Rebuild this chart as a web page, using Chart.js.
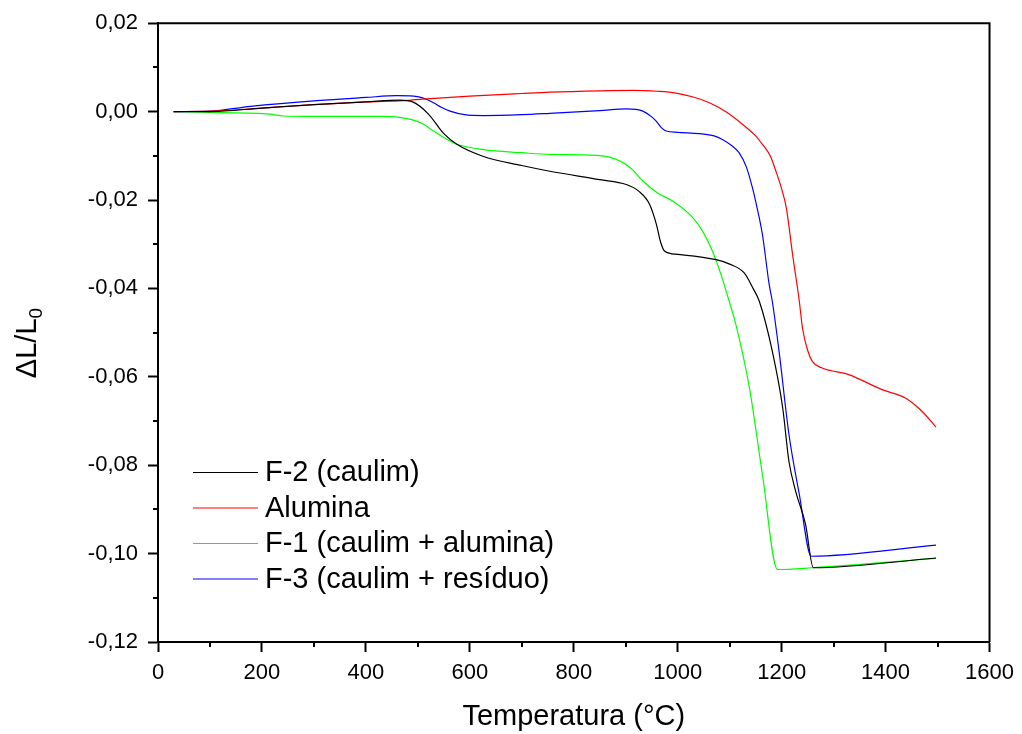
<!DOCTYPE html>
<html>
<head>
<meta charset="utf-8">
<script src="https://cdn.jsdelivr.net/npm/chart.js@4.4.1/dist/chart.umd.min.js"></script>
<style>
  html, body { margin: 0; padding: 0; background: #fff; }
  #wrap { width: 1022px; height: 734px; }
</style>
</head>
<body>
<div id="wrap"><canvas id="dilat"></canvas></div>
<script>
// Dilatometria: retração linear (ΔL/L0) x temperatura

// ─── Dados ───────────────────────────────────────────────────────────────────
const F2_TEMP = [30, 100, 200, 300, 400, 465, 490, 520, 550, 575, 625, 700, 754, 850, 901, 925, 946, 959, 967, 975, 1000, 1074, 1100, 1128, 1145, 1157, 1182, 1202, 1214, 1227, 1246, 1261, 1497];
const F2_VAL  = [0, 0.0000, 0.0008, 0.0016, 0.0022, 0.0026, 0.0022, -0.0005, -0.0050, -0.0074, -0.0101, -0.0122, -0.0135, -0.0154, -0.0165, -0.0180, -0.0210, -0.0255, -0.0295, -0.0316, -0.0323, -0.0335, -0.0345, -0.0365, -0.0400, -0.0429, -0.0542, -0.0670, -0.0791, -0.0859, -0.0934, -0.1032, -0.1010];

const ALU_TEMP = [30, 100, 200, 300, 400, 472, 517, 600, 700, 754, 850, 914, 960, 997, 1030, 1061, 1095, 1125, 1150, 1163, 1178, 1189, 1200, 1209, 1221, 1234, 1240, 1250, 1259, 1278, 1329, 1393, 1438, 1470, 1497];
const ALU_VAL  = [0, 0.0001, 0.0008, 0.0016, 0.0022, 0.0025, 0.0029, 0.0035, 0.0041, 0.0044, 0.0047, 0.0048, 0.0046, 0.0042, 0.0033, 0.0020, -0.0002, -0.0029, -0.0055, -0.0074, -0.0100, -0.0135, -0.0175, -0.0218, -0.0323, -0.0429, -0.0489, -0.0540, -0.0565, -0.0580, -0.0595, -0.0629, -0.0648, -0.0678, -0.0714];

const F1_TEMP = [30, 82, 150, 210, 242, 300, 434, 479, 510, 530, 555, 575, 626, 700, 754, 844, 882, 910, 933, 960, 991, 1029, 1050, 1067, 1085, 1099, 1112, 1138, 1163, 1192, 1259, 1497];
const F1_VAL  = [0, -0.0001, -0.0003, -0.0005, -0.0010, -0.0011, -0.0011, -0.0016, -0.0028, -0.0044, -0.0062, -0.0074, -0.0086, -0.0093, -0.0097, -0.0099, -0.0108, -0.0128, -0.0157, -0.0183, -0.0203, -0.0240, -0.0275, -0.0316, -0.0375, -0.0429, -0.0482, -0.0625, -0.0821, -0.1036, -0.1032, -0.1011];

const F3_TEMP = [30, 100, 178, 306, 400, 460, 492, 512, 530, 545, 562, 590, 626, 700, 754, 850, 901, 920, 933, 950, 959, 970, 978, 1000, 1042, 1070, 1086, 1105, 1118, 1132, 1144, 1150, 1163, 1176, 1182, 1195, 1214, 1234, 1257, 1497];
const F3_VAL  = [0, 0.0001, 0.0012, 0.0025, 0.0032, 0.0036, 0.0035, 0.0030, 0.0020, 0.0010, 0.0001, -0.0007, -0.0009, -0.0007, -0.0004, 0.0002, 0.0006, 0.0005, 0.0001, -0.0012, -0.0022, -0.0038, -0.0044, -0.0047, -0.0050, -0.0055, -0.0063, -0.0078, -0.0093, -0.0125, -0.0173, -0.0203, -0.0278, -0.0391, -0.0429, -0.0542, -0.0730, -0.0866, -0.1006, -0.0981];

const SERIES_LABELS = ['F-2 (caulim)', 'Alumina', 'F-1 (caulim + alumina)', 'F-3 (caulim + resíduo)'];
const SERIES_COLORS = ['#000000', '#ff0000', '#00ff00', '#0000ff'];

const X_MIN = 0, X_MAX = 1600, X_STEP = 200;
const Y_MIN = -0.12, Y_MAX = 0.02, Y_STEP = 0.02;

const FONT = 'Arial, "Liberation Sans", sans-serif';

// ─── Helpers ─────────────────────────────────────────────────────────────────
function pares(temps, vals) {
  return temps.map((t, i) => ({ x: t, y: vals[i] }));
}

function fmtVirgula(v) {
  if (Math.abs(v) < 1e-9) return '0,00';
  return v.toFixed(2).replace('.', ',');
}

// ─── Plugin: moldura, ticks menores, título Y e legenda interna ─────────────
const extras = {
  id: 'extras',
  afterDraw(chart) {
    const { ctx, chartArea: a, scales } = chart;
    ctx.save();
    ctx.strokeStyle = '#000';
    ctx.lineWidth = 2;

    // moldura superior e direita
    ctx.beginPath();
    ctx.moveTo(a.left, a.top);
    ctx.lineTo(a.right, a.top);
    ctx.lineTo(a.right, a.bottom);
    ctx.stroke();

    // ticks menores
    ctx.beginPath();
    for (let t = X_MIN + X_STEP / 2; t < X_MAX; t += X_STEP) {
      const px = Math.round(scales.x.getPixelForValue(t));
      ctx.moveTo(px, a.bottom);
      ctx.lineTo(px, a.bottom + 5);
    }
    for (let k = 1; k < Math.round((Y_MAX - Y_MIN) / Y_STEP) * 2; k += 2) {
      const v = Y_MIN + k * Y_STEP / 2;
      const py = Math.round(scales.y.getPixelForValue(v));
      ctx.moveTo(a.left, py);
      ctx.lineTo(a.left - 5, py);
    }
    ctx.stroke();

    // título do eixo Y com subscrito
    ctx.fillStyle = '#000';
    ctx.translate(28, 343);
    ctx.rotate(-Math.PI / 2);
    ctx.font = '29px ' + FONT;
    ctx.textBaseline = 'middle';
    const base = 'ΔL/L';
    const wBase = ctx.measureText(base).width;
    ctx.font = '19px ' + FONT;
    const wSub = ctx.measureText('0').width;
    const x0 = -(wBase + wSub) / 2;
    ctx.font = '29px ' + FONT;
    ctx.fillText(base, x0, 0);
    ctx.font = '19px ' + FONT;
    ctx.fillText('0', x0 + wBase, 9);
    ctx.setTransform(1, 0, 0, 1, 0, 0);

    // legenda
    ctx.font = '29px ' + FONT;
    ctx.textBaseline = 'middle';
    ctx.lineWidth = 1;
    chart.data.datasets.forEach((ds, i) => {
      const y = 472 + i * 35.5;
      ctx.strokeStyle = ds.borderColor;
      ctx.beginPath();
      ctx.moveTo(193, y + 0.5);
      ctx.lineTo(258, y + 0.5);
      ctx.stroke();
      ctx.fillStyle = '#000';
      ctx.fillText(ds.label, 265, y + 1);
    });
    ctx.restore();
  }
};

// ─── Gráfico ─────────────────────────────────────────────────────────────────
const dados = [
  pares(F2_TEMP, F2_VAL),
  pares(ALU_TEMP, ALU_VAL),
  pares(F1_TEMP, F1_VAL),
  pares(F3_TEMP, F3_VAL),
];

new Chart(document.getElementById('dilat').getContext('2d'), {
  type: 'line',
  data: {
    datasets: dados.map((d, i) => ({
      label: SERIES_LABELS[i],
      data: d,
      borderColor: SERIES_COLORS[i],
      borderWidth: 1.2,
      pointRadius: 0,
      cubicInterpolationMode: 'monotone',
      fill: false,
    }))
  },
  options: {
    responsive: true,
    maintainAspectRatio: false,
    animation: false,
    layout: { padding: { top: 23, right: 31, left: 0, bottom: 0 } },
    plugins: {
      legend: { display: false },
      tooltip: { enabled: false },
    },
    scales: {
      x: {
        type: 'linear',
        min: X_MIN,
        max: X_MAX,
        afterFit: s => { s.height = 92; },
        ticks: {
          stepSize: X_STEP,
          color: '#000',
          font: { family: FONT, size: 22 },
          padding: 8,
          maxRotation: 0,
          callback: v => String(v),
        },
        border: { display: true, color: '#000', width: 2 },
        grid: { drawOnChartArea: false, drawTicks: true, tickLength: 10, tickColor: '#000', tickWidth: 2 },
        title: {
          display: true,
          text: 'Temperatura (°C)',
          color: '#000',
          font: { family: FONT, size: 29 },
          padding: { top: 0, bottom: 0 },
        },
      },
      y: {
        type: 'linear',
        min: Y_MIN,
        max: Y_MAX,
        afterFit: s => { s.width = 158; },
        ticks: {
          stepSize: Y_STEP,
          color: '#000',
          font: { family: FONT, size: 22 },
          padding: 10,
          callback: v => fmtVirgula(v),
        },
        border: { display: true, color: '#000', width: 2 },
        grid: { drawOnChartArea: false, drawTicks: true, tickLength: 10, tickColor: '#000', tickWidth: 2 },
      }
    }
  },
  plugins: [extras]
});
</script>
</body>
</html>
